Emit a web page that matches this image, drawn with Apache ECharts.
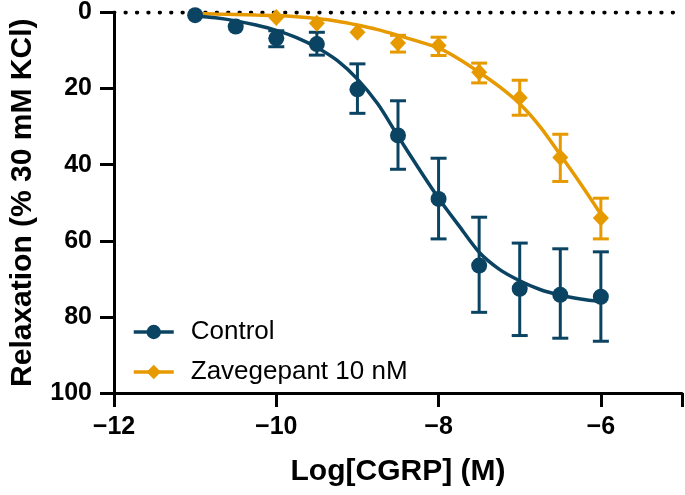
<!DOCTYPE html>
<html>
<head>
<meta charset="utf-8">
<script src="https://cdn.jsdelivr.net/npm/echarts@6/dist/echarts.min.js"></script>
<style>
html,body{margin:0;padding:0;background:#fff;}
#chart{width:685px;height:495px;}
</style>
</head>
<body>
<div id="chart"></div>
<script>
// ---- data ----
var seriesNames = ['Control', 'Zavegepant 10 nM'];
var xTicks = [-12, -10, -8, -6];
var yTicks = [0, 20, 40, 60, 80, 100];

// measured points: [log concentration, mean relaxation]
var controlX    = [-11, -10.5, -10, -9.5, -9, -8.5, -8, -7.5, -7, -6.5, -6];
var controlMean = [0.7, 3.7, 6.8, 8.3, 20.2, 32.3, 49.0, 66.5, 72.6, 74.2, 74.7];
var controlLow  = [0.7, 3.7, 4.8, 5.2, 13.5, 23.2, 38.3, 53.8, 60.6, 62.1, 62.9];
var controlHigh = [0.7, 3.7, 9.0, 11.2, 26.5, 41.2, 59.5, 78.8, 84.9, 85.6, 86.4];

var zavX    = [-10, -9.5, -9, -8.5, -8, -7.5, -7, -6.5, -6];
var zavMean = [1.3, 2.8, 5.2, 8.0, 8.7, 15.7, 22.4, 38.1, 54.0];
var zavLow  = [1.3, 2.8, 5.2, 6.0, 6.5, 13.3, 17.8, 32.0, 48.8];
var zavHigh = [1.3, 2.8, 5.2, 10.4, 11.3, 18.5, 27.0, 44.4, 59.5];

// fitted curves
var controlCurveX = [-11, -10.75, -10.5, -10.25, -10, -9.75, -9.5, -9.25, -9, -8.75, -8.5, -8.25, -8, -7.75, -7.5, -7.25, -7, -6.75, -6.5, -6.25, -6];
var controlCurveY = [0.9, 1.4, 2.2, 3.3, 4.7, 6.6, 9.2, 12.6, 17.5, 24, 32.5, 40.8, 48.8, 56, 63, 67.5, 70.5, 72.8, 74.3, 75.3, 76];
var zavCurveX = [-11, -10.75, -10.5, -10.25, -10, -9.75, -9.5, -9.25, -9, -8.75, -8.5, -8.25, -8, -7.75, -7.5, -7.25, -7, -6.75, -6.5, -6.25, -6];
var zavCurveY = [0.3, 0.4, 0.5, 0.65, 0.8, 1.1, 1.6, 2.3, 3.3, 4.5, 6.0, 7.6, 9.3, 12.2, 15.7, 19.5, 24, 30, 37.4, 45, 53];

var refLineX = [-12, -5];
var refLineY = [0, 0];

// ---- build ----
var NAVY = '#0b4462';
var ORANGE = '#e69a00';
var FONT = "'Liberation Sans', Arial, sans-serif";

function zip(a, b) { return a.map(function (v, i) { return [v, b[i]]; }); }
function zip3(a, b, c) { return a.map(function (v, i) { return [v, b[i], c[i]]; }); }

function errRender(color) {
  return function (params, api) {
    var x = api.value(0), lo = api.value(1), hi = api.value(2);
    if (hi - lo < 0.01) return null;
    var p1 = api.coord([x, lo]), p2 = api.coord([x, hi]);
    var hw = 8;
    var st = { stroke: color, lineWidth: 3 };
    return {
      type: 'group',
      children: [
        { type: 'line', shape: { x1: p1[0], y1: p1[1], x2: p2[0], y2: p2[1] }, style: st },
        { type: 'line', shape: { x1: p1[0] - hw, y1: p1[1], x2: p1[0] + hw, y2: p1[1] }, style: st },
        { type: 'line', shape: { x1: p2[0] - hw, y1: p2[1], x2: p2[0] + hw, y2: p2[1] }, style: st }
      ]
    };
  };
}

var chart = echarts.init(document.getElementById('chart'), null, { renderer: 'canvas' });
chart.setOption({
  animation: false,
  backgroundColor: '#fff',
  textStyle: { fontFamily: FONT },
  grid: { left: 110, right: 2, top: 10.7, bottom: 102, containLabel: false },
  legend: {
    data: seriesNames,
    orient: 'vertical',
    left: 127,
    top: 312,
    itemWidth: 40,
    itemHeight: 18,
    itemGap: 10,
    selectedMode: false,
    lineStyle: { width: 3.5 },
    textStyle: { fontFamily: FONT, fontSize: 26, color: '#000', lineHeight: 30, padding: [0, 0, 0, 12] }
  },
  xAxis: {
    type: 'value',
    min: -12, max: -5, interval: 2,
    name: 'Log[CGRP] (M)',
    nameLocation: 'middle',
    nameGap: 64,
    nameTextStyle: { fontFamily: FONT, fontSize: 30, fontWeight: 'bold', color: '#000' },
    axisLine: { show: true, onZero: false, lineStyle: { color: '#000', width: 3 } },
    axisTick: { show: true, length: 14, lineStyle: { color: '#000', width: 3 } },
    axisLabel: {
      margin: 22, fontSize: 25, fontWeight: 'bold', color: '#000', fontFamily: FONT,
      formatter: function (v) { return xTicks.indexOf(v) >= 0 ? String(v).replace('-', '\u2212') : ''; }
    },
    splitLine: { show: false }
  },
  yAxis: {
    type: 'value',
    inverse: true,
    min: 0, max: 100, interval: 20,
    name: 'Relaxation (% 30 mM KCl)',
    nameLocation: 'middle',
    nameGap: 76,
    nameTextStyle: { fontFamily: FONT, fontSize: 30, fontWeight: 'bold', color: '#000' },
    axisLine: { show: true, onZero: false, lineStyle: { color: '#000', width: 3 } },
    axisTick: { show: true, length: 14, lineStyle: { color: '#000', width: 3 } },
    axisLabel: {
      margin: 22, fontSize: 25, fontWeight: 'bold', color: '#000', fontFamily: FONT,
      formatter: function (v) { return yTicks.indexOf(v) >= 0 ? String(v) : ''; }
    },
    splitLine: { show: false }
  },
  series: [
    {
      name: 'ref', type: 'line', data: zip(refLineX, refLineY), symbol: 'none', silent: true,
      lineStyle: { color: '#000', width: 3.8, type: [0.5, 10.9], cap: 'round' },
      z: 1
    },
    {
      name: seriesNames[1], type: 'line', data: zip(zavCurveX, zavCurveY), smooth: 0.3,
      symbol: 'diamond', symbolSize: 15, showSymbol: false,
      itemStyle: { color: ORANGE }, lineStyle: { color: ORANGE, width: 3.5 }, z: 2
    },
    {
      name: seriesNames[0], type: 'line', data: zip(controlCurveX, controlCurveY), smooth: 0.3,
      symbol: 'circle', symbolSize: 15, showSymbol: false,
      itemStyle: { color: NAVY }, lineStyle: { color: NAVY, width: 3.5 }, z: 2
    },
    {
      name: 'zavErr', type: 'custom', renderItem: errRender(ORANGE), data: zip3(zavX, zavLow, zavHigh), z: 3, silent: true
    },
    {
      name: 'ctrlErr', type: 'custom', renderItem: errRender(NAVY), data: zip3(controlX, controlLow, controlHigh), z: 3, silent: true
    },
    {
      name: 'zavPts', type: 'scatter', data: zip(zavX, zavMean), symbol: 'diamond', symbolSize: [16, 17],
      itemStyle: { color: ORANGE, opacity: 1 }, z: 4
    },
    {
      name: 'ctrlPts', type: 'scatter', data: zip(controlX, controlMean), symbol: 'circle', symbolSize: 16,
      itemStyle: { color: NAVY, opacity: 1 }, z: 5
    }
  ]
});
</script>
</body>
</html>
